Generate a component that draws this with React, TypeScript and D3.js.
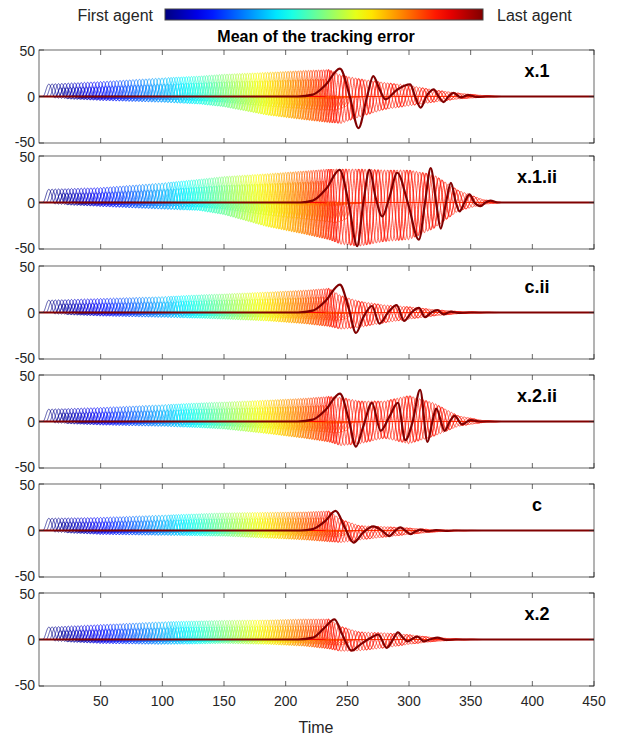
import React, { useMemo } from "react";
import * as d3 from "d3";

const WIDTH = 619;
const HEIGHT = 737;

// Panel layout (pixel boxes of each subplot)
const panelLabels = ["x.1", "x.1.ii", "c.ii", "x.2.ii", "c", "x.2"];
const panelTops = [50, 156, 266, 375, 484, 593];
const PANEL_H = 93;
const PLOT_LEFT = 39;
const PLOT_RIGHT = 594;

const xDomain = [0, 450];
const yDomain = [-50, 50];
const xTicks = [50, 100, 150, 200, 250, 300, 350, 400, 450];
const yTicks = [-50, 0, 50];

// Agents: index -> colour, onset time of each agent's oscillation
const agentCount = 116;
const oscillatingAgents = 102;
const onsetIndex = [0, 37, 101];
const onsetTime = [3, 100, 232];
const cyclePeriod = 10;
const tailPeriod = 13;
const upperHold = 9;
const upperFade = 9;
const lowerHold = 20;
const lowerFade = 12;
const eventTime = 240;
const lateOnset = 219;
const tailEnd = 375;

// Envelope of the agents' band, sampled at these times
const envelopeTimes = [3, 50, 100, 130, 150, 185, 215, 235, 245, 260, 280, 300, 320, 340, 360, 375];

const upperX1 = [13, 16, 20, 22, 24, 26, 28, 29, 23, 19, 15, 12, 7, 3.5, 1, 0];
const lowerX1 = [-1, -4, -6, -8, -11, -20, -25, -28, -29, -22, -14, -10, -6, -2.5, -0.8, 0];

const upperX1ii = [14, 16, 21, 25, 28, 31, 34, 36, 36, 36, 35, 35, 30, 13, 3, 0];
const lowerX1ii = [-1, -4, -7, -8.5, -13, -26, -34, -40, -45, -47, -42, -40, -28, -9, -2, 0];

const upperCii = [13, 15, 17, 19, 20, 22, 24, 26, 18, 12, 8, 6, 3, 1, 0.3, 0];
const lowerCii = [-1, -3.5, -5, -6, -7, -9, -12, -15, -18, -16, -11, -7, -3.5, -1.2, -0.3, 0];

const upperX2ii = [13, 15, 18, 20, 21, 23, 25, 27, 26, 22, 22, 28, 20, 6, 1, 0];
const lowerX2ii = [-1, -3.5, -5, -6.5, -8, -13, -18, -22, -26, -24, -18, -24, -16, -5, -1, 0];

const upperC = [13, 14, 16.5, 18, 19, 19.5, 20, 21, 12, 5, 4, 2.5, 0.7, 0.2, 0, 0];
const lowerC = [-1, -4, -5, -5.5, -6, -8, -10, -12, -13, -10, -7, -4, -1.5, -0.3, 0, 0];

const upperX2 = [13, 16, 19, 20, 20.5, 21, 22, 22, 14, 8, 7, 5, 2, 0.5, 0, 0];
const lowerX2 = [-1, -4, -5, -4.5, -4, -5, -7, -10, -12.7, -12, -9, -5, -2, -0.5, 0, 0];

// Last agent's tracking error: [time, value] at its turning points
const lastAgentX1: [number, number][] = [
  [0, 0], [210, 0], [222, 2], [232, 12], [244, 30], [252, 0], [259, -34], [266, 0], [271, 22],
  [276, 8], [281, -3], [290, 7], [301, 13], [305, 0], [309.5, -12], [314, 0], [320, 7.6], [324, 0],
  [328, -6], [332, 0], [336, 4], [342, -1], [348, 1.5], [355, -0.5], [362, 0], [450, 0],
];
const lastAgentX1ii: [number, number][] = [
  [0, 0], [212, 0], [222, 2], [233, 15], [243.7, 35], [251, 0], [258, -47], [263, 0], [268, 35],
  [273, 5], [278.4, -15], [284, 5], [290.5, 32], [299, 0], [308, -40], [313, 0], [317.6, 37],
  [322, 0], [325.7, -28], [330, 0], [334, 21], [338, 0], [341, -9.5], [345, 0], [349, 8.7],
  [353, 0], [358, -4], [362, 0], [366, 2], [372, 0], [450, 0],
];
const lastAgentCii: [number, number][] = [
  [0, 0], [210, 0], [222, 2], [232, 12], [244, 30], [251, 5], [257, -22], [263, -5], [270, 7],
  [276, -12], [283, 0], [290, 8], [296, -9], [302, 0], [308, 5], [313, -5], [318, 0], [323, 2.5],
  [328, -2], [334, 1], [340, -0.5], [348, 0], [450, 0],
];
const lastAgentX2ii: [number, number][] = [
  [0, 0], [210, 0], [222, 2], [232, 12], [244, 30], [251, 3], [257, -27], [263, -5], [270, 20],
  [277, -10], [284, 5], [291, 20], [297, -20], [303, 0], [309, 34], [315, -22], [319, 0], [322, 14],
  [329, -10], [333, 0], [337, 6], [343, -3], [350, 1.5], [358, 0], [450, 0],
];
const lastAgentC: [number, number][] = [
  [0, 0], [212, 0], [222, 1.5], [232, 10], [240.5, 21], [248, 3], [255, -13], [263, -2], [271, 4.5],
  [278, 0], [284, -6], [289, 0], [293, 3.3], [297, 0], [301.5, -4], [305, -1], [309.5, 1], [315, -1],
  [322, 0.5], [330, -0.5], [336, 0], [450, 0],
];
const lastAgentX2: [number, number][] = [
  [0, 0], [210, 0], [222, 2], [231, 12], [239.6, 21.7], [246, 5], [253.4, -12], [260, -6], [268, 1],
  [275, 5.4], [282, -9], [287, 0], [291, 7.6], [295, 2], [299, -2], [303, 1], [307, 3], [312, -2],
  [318, 0.5], [323, 2], [330, -0.5], [338, 0], [450, 0],
];

const panelUppers = [upperX1, upperX1ii, upperCii, upperX2ii, upperC, upperX2];
const panelLowers = [lowerX1, lowerX1ii, lowerCii, lowerX2ii, lowerC, lowerX2];
const panelLastAgent = [lastAgentX1, lastAgentX1ii, lastAgentCii, lastAgentX2ii, lastAgentC, lastAgentX2];

// MATLAB-style jet colormap
function jet(v: number): string {
  const c = (x: number) => Math.max(0, Math.min(1, x));
  const r = c(1.5 - Math.abs(4 * v - 3));
  const g = c(1.5 - Math.abs(4 * v - 2));
  const b = c(1.5 - Math.abs(4 * v - 1));
  return d3.rgb(r * 255, g * 255, b * 255).formatHex();
}

const FONT = "'Liberation Sans', Arial, Helvetica, sans-serif";
const AXIS_COLOR = "#262626";

const gauss = (x: number, w: number) => Math.exp(-((x / w) ** 2));

function buildAgentCurves(upper: number[], lower: number[]) {
  const U = d3.scaleLinear().domain(envelopeTimes).range(upper).clamp(true);
  const L = d3.scaleLinear().domain(envelopeTimes).range(lower).clamp(true);
  const onset = d3.scaleLinear().domain(onsetIndex).range(onsetTime);
  const curves: [number, number][][] = [];
  for (let k = 0; k < oscillatingAgents; k++) {
    const s = onset(k);
    const late = s > lateOnset;
    const life = lowerHold + 2.5 * lowerFade;
    const endT = late ? tailEnd : Math.min(tailEnd, s + life);
    const pts: [number, number][] = [[0, 0], [s, 0]];
    for (let t = s + 0.25; t <= endT; t += 0.25) {
      const tau = t - s;
      // oscillation slows down once the event has passed
      const phase =
        t < eventTime
          ? (2 * Math.PI * tau) / cyclePeriod
          : (2 * Math.PI * Math.max(0, eventTime - s)) / cyclePeriod + (2 * Math.PI * (t - Math.max(s, eventTime))) / tailPeriod;
      const p = (1 - Math.cos(phase)) / 2;
      const a = late || tau <= upperHold ? 1 : gauss(tau - upperHold, upperFade);
      const ramp = Math.min(1, tau / cyclePeriod);
      const b = ramp * (late || tau <= lowerHold ? 1 : gauss(tau - lowerHold, lowerFade));
      pts.push([t, a * U(t) * p + b * L(t) * (1 - p)]);
    }
    pts.push([endT + 0.25, 0], [450, 0]);
    curves.push(pts);
  }
  return curves;
}

function Panel({ index }: { index: number }) {
  const top = panelTops[index];
  const x = d3.scaleLinear().domain(xDomain).range([PLOT_LEFT, PLOT_RIGHT]);
  const y = d3.scaleLinear().domain(yDomain).range([top + PANEL_H, top]);
  const line = d3
    .line<[number, number]>()
    .x((d) => x(d[0]))
    .y((d) => y(d[1]));
  const thick = d3
    .line<[number, number]>()
    .x((d) => x(d[0]))
    .y((d) => y(d[1]))
    .curve(d3.curveMonotoneX);

  const curves = useMemo(() => buildAgentCurves(panelUppers[index], panelLowers[index]), [index]);
  const clipId = `clip-${index}`;
  const tickLen = 5;
  const isBottom = index === panelTops.length - 1;

  return (
    <g>
      <defs>
        <clipPath id={clipId}>
          <rect x={PLOT_LEFT} y={top} width={PLOT_RIGHT - PLOT_LEFT} height={PANEL_H} />
        </clipPath>
      </defs>
      <rect x={PLOT_LEFT} y={top} width={PLOT_RIGHT - PLOT_LEFT} height={PANEL_H} fill="#fff" />
      <g clipPath={`url(#${clipId})`}>
        {curves.map((pts, k) => (
          <path key={k} d={line(pts) || ""} fill="none" stroke={jet(k / (agentCount - 1))} strokeWidth={0.65} />
        ))}
        <path d={thick(panelLastAgent[index]) || ""} fill="none" stroke={jet(1)} strokeWidth={2.2} />
      </g>
      <rect x={PLOT_LEFT} y={top} width={PLOT_RIGHT - PLOT_LEFT} height={PANEL_H} fill="none" stroke={AXIS_COLOR} strokeWidth={0.7} />
      {xTicks.map((t) => (
        <g key={t}>
          <line x1={x(t)} x2={x(t)} y1={top} y2={top + tickLen} stroke={AXIS_COLOR} strokeWidth={0.7} />
          <line x1={x(t)} x2={x(t)} y1={top + PANEL_H} y2={top + PANEL_H - tickLen} stroke={AXIS_COLOR} strokeWidth={0.7} />
          {isBottom && (
            <text x={x(t)} y={top + PANEL_H + 20} textAnchor="middle" fontSize={14} fontFamily={FONT} fill={AXIS_COLOR}>
              {t}
            </text>
          )}
        </g>
      ))}
      {yTicks.map((v) => (
        <g key={v}>
          <line x1={PLOT_LEFT} x2={PLOT_LEFT + tickLen} y1={y(v)} y2={y(v)} stroke={AXIS_COLOR} strokeWidth={0.7} />
          <line x1={PLOT_RIGHT} x2={PLOT_RIGHT - tickLen} y1={y(v)} y2={y(v)} stroke={AXIS_COLOR} strokeWidth={0.7} />
          <text x={PLOT_LEFT - 4} y={y(v) + (v > 0 ? 6 : v < 0 ? 3.5 : 5)} textAnchor="end" fontSize={14} fontFamily={FONT} fill={AXIS_COLOR}>
            {v}
          </text>
        </g>
      ))}
      <text x={537} y={top + 27} textAnchor="middle" fontSize={18} fontWeight="bold" fontFamily={FONT} fill="#000">
        {panelLabels[index]}
      </text>
    </g>
  );
}

export default function App() {
  const stops = d3.range(0, 1.0001, 0.05);
  return (
    <svg width={WIDTH} height={HEIGHT} style={{ display: "block", position: "absolute", left: 0, top: 0 }}>
      <rect width={WIDTH} height={HEIGHT} fill="#fff" />
      <defs>
        <linearGradient id="jetbar" x1="0" x2="1" y1="0" y2="0">
          {stops.map((s) => (
            <stop key={s} offset={s} stopColor={jet(s)} />
          ))}
        </linearGradient>
      </defs>
      <rect x={165} y={9} width={318} height={11} fill="url(#jetbar)" stroke="#444" strokeWidth={1} />
      <text x={153} y={21} textAnchor="end" fontSize={16} fontFamily={FONT} fill={AXIS_COLOR}>
        First agent
      </text>
      <text x={497} y={21} textAnchor="start" fontSize={16} fontFamily={FONT} fill={AXIS_COLOR}>
        Last agent
      </text>
      <text x={316} y={42} textAnchor="middle" fontSize={16} fontWeight="bold" fontFamily={FONT} fill="#000">
        Mean of the tracking error
      </text>
      {panelTops.map((_, i) => (
        <Panel key={i} index={i} />
      ))}
      <text x={316} y={733} textAnchor="middle" fontSize={16} fontFamily={FONT} fill={AXIS_COLOR}>
        Time
      </text>
    </svg>
  );
}
